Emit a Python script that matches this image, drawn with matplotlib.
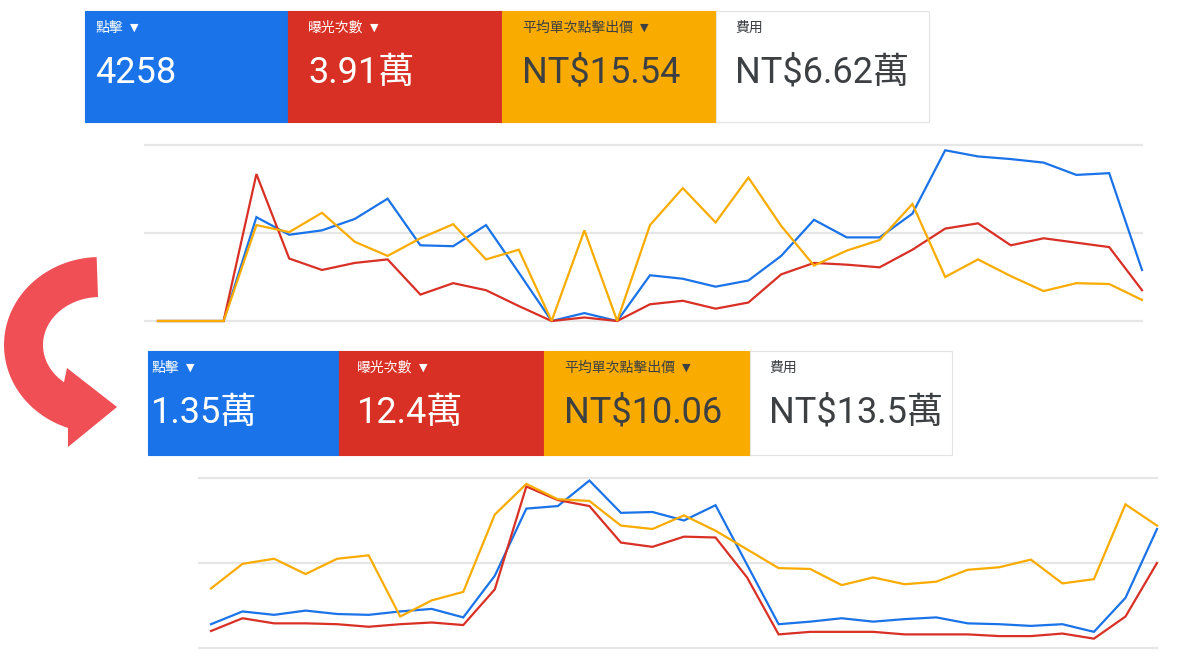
import numpy as np
import matplotlib
matplotlib.use("Agg")
import matplotlib.pyplot as plt
from matplotlib.patches import Rectangle, Polygon

W, H = 1178, 660

# scorecard data
labels = ["點擊", "曝光次數", "平均單次點擊出價", "費用"]
values_before = ["4258", "3.91萬", "NT$15.54", "NT$6.62萬"]
values_after = ["1.35萬", "12.4萬", "NT$10.06", "NT$13.5萬"]

# daily series (in units of gridline steps), 31 days
clicks_before = [0, 0, 0, 1.18, 0.98, 1.03, 1.16, 1.39, 0.86, 0.85, 1.09, 0.55, 0, 0.09, 0,
                 0.52, 0.48, 0.39, 0.46, 0.74, 1.15, 0.95, 0.95, 1.22, 1.94, 1.87, 1.84, 1.80,
                 1.66, 1.68, 0.58]
impr_before = [0, 0, 0, 1.67, 0.71, 0.58, 0.66, 0.70, 0.30, 0.43, 0.35, 0.17, 0, 0.04, 0,
               0.19, 0.23, 0.14, 0.21, 0.53, 0.66, 0.64, 0.61, 0.81, 1.05, 1.11, 0.86, 0.94,
               0.89, 0.84, 0.35]
cpc_before = [0, 0, 0, 1.09, 1.01, 1.23, 0.90, 0.74, 0.94, 1.10, 0.70, 0.81, 0, 1.03, 0,
              1.09, 1.51, 1.12, 1.63, 1.08, 0.63, 0.80, 0.92, 1.33, 0.50, 0.70, 0.51, 0.34,
              0.43, 0.42, 0.24]

clicks_after = [0.28, 0.43, 0.39, 0.44, 0.40, 0.39, 0.43, 0.46, 0.36, 0.85, 1.64, 1.67, 1.97,
                1.59, 1.60, 1.50, 1.68, 0.98, 0.28, 0.31, 0.35, 0.31, 0.34, 0.36, 0.29, 0.28,
                0.26, 0.28, 0.19, 0.59, 1.40]
impr_after = [0.20, 0.35, 0.29, 0.29, 0.28, 0.25, 0.28, 0.30, 0.27, 0.69, 1.90, 1.74, 1.67,
              1.24, 1.19, 1.31, 1.30, 0.83, 0.16, 0.19, 0.19, 0.19, 0.16, 0.16, 0.16, 0.14,
              0.14, 0.17, 0.11, 0.37, 1.00]
cpc_after = [0.70, 0.99, 1.05, 0.87, 1.05, 1.09, 0.37, 0.56, 0.66, 1.57, 1.93, 1.75, 1.73,
             1.44, 1.40, 1.56, 1.38, 1.16, 0.94, 0.93, 0.74, 0.83, 0.75, 0.78, 0.92, 0.95,
             1.04, 0.76, 0.81, 1.69, 1.44]

BLUE, RED, YELLOW = "#1a73e8", "#d93025", "#f9ab00"
DARK = "#3c4043"
card_colors = [BLUE, RED, YELLOW, "white"]
text_colors = ["white", "white", DARK, DARK]
value_font = ["Roboto", "Noto Sans CJK TC"]
label_font = ["Noto Sans CJK TC", "DejaVu Sans"]

fig = plt.figure(figsize=(W / 100, H / 100), dpi=100)
bg = fig.add_axes([0, 0, 1, 1])
bg.set_xlim(0, W)
bg.set_ylim(H, 0)
bg.axis("off")


def draw_cards(edges, top, bottom, pads, values):
    for i in range(4):
        x0, x1 = edges[i], edges[i + 1]
        ec = "#e3e3e3" if card_colors[i] == "white" else card_colors[i]
        bg.add_patch(Rectangle((x0, top), x1 - x0, bottom - top, facecolor=card_colors[i],
                               edgecolor=ec, linewidth=0.8))
        tx = x0 + pads[i]
        lab = bg.text(tx, top + 17, labels[i], color=text_colors[i], fontsize=10,
                      family=label_font, va="center", ha="left")
        if i < 3:
            bg.annotate("▼", xy=(1, 0.5), xycoords=lab, xytext=(5, 0),
                        textcoords="offset points", fontsize=8, color=text_colors[i],
                        family="DejaVu Sans", va="center", ha="left")
        bg.text(tx, top + 62, values[i], color=text_colors[i], fontsize=26,
                family=value_font, va="center", ha="left")


draw_cards([85, 288, 502, 716, 929], 11, 122, [10, 20, 20, 19], values_before)
draw_cards([148, 339, 544, 750, 952], 351, 455, [3, 18, 20, 19], values_after)


def draw_chart(left, right, top, bottom, x_first, series):
    ax = fig.add_axes([left / W, 1 - bottom / H, (right - left) / W, (bottom - top) / H])
    n = len(series[0])
    step = (right - x_first) / (n - 1)
    ax.set_xlim(-(x_first - left) / step, n - 1)
    ax.set_ylim(0, 2)
    for g in [0, 1, 2]:
        ax.axhline(g, color="#e6e6e6", linewidth=1.6, zorder=0, clip_on=False)
    days = np.arange(n)
    for vals, c in zip(series, [BLUE, RED, YELLOW]):
        ax.plot(days, vals, color=c, linewidth=1.6, clip_on=False, solid_joinstyle="miter")
    ax.axis("off")
    return ax


draw_chart(145, 1142, 145, 321, 158, [clicks_before, impr_before, cpc_before])
draw_chart(199, 1157, 478, 648, 211, [clicks_after, impr_after, cpc_after])

# curved arrow between the two snapshots
cx, cy = 100, 345
t_out = np.radians(np.linspace(92, 250.5, 60))
t_in = np.radians(np.linspace(230.8, 92, 60))
outer = np.column_stack([cx + 96 * np.cos(t_out), cy - 88 * np.sin(t_out)])
inner = np.column_stack([cx + 57 * np.cos(t_in), cy - 48 * np.sin(t_in)])
head = np.array([[68, 447], [117, 407], [67, 368]])
bg.add_patch(Polygon(np.vstack([outer, head, inner]), closed=True,
                     facecolor="#f04f56", edgecolor="none"))

fig.savefig("out.png", dpi=100)
